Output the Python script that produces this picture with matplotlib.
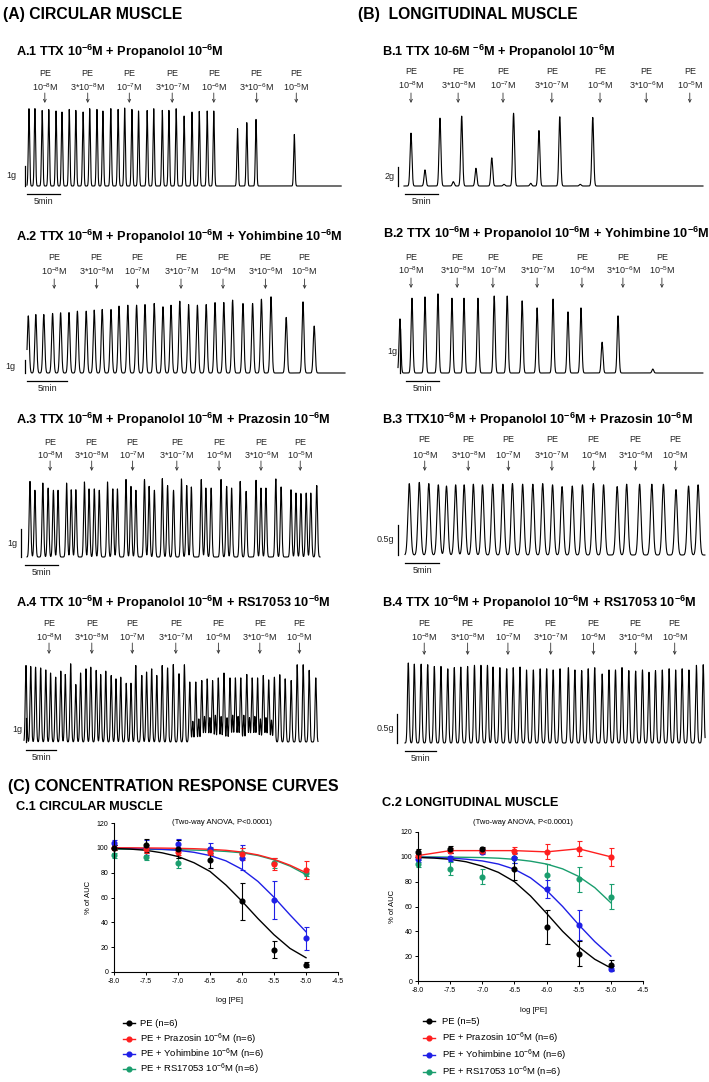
import numpy as np
import matplotlib
matplotlib.use("Agg")
import matplotlib.pyplot as plt
from matplotlib.lines import Line2D
from matplotlib.transforms import blended_transform_factory

plt.rcParams['font.family'] = ['Liberation Sans', 'DejaVu Sans']
plt.rcParams['mathtext.fontset'] = 'custom'
plt.rcParams['mathtext.rm'] = 'Liberation Sans'
plt.rcParams['mathtext.bf'] = 'Liberation Sans:bold'
plt.rcParams['mathtext.default'] = 'regular'
plt.rcParams['axes.unicode_minus'] = False

W, H = 709, 1082

# ---- organ bath traces: peak time (min) and peak force (g) ----
CONC = ['10$^{-8}$M', '3*10$^{-8}$M', '10$^{-7}$M', '3*10$^{-7}$M',
        '10$^{-6}$M', '3*10$^{-6}$M', '10$^{-5}$M']

A1_T = [0.3, 1.2, 2.3, 3.3, 4.4, 5.3, 6.4, 7.4, 8.5, 9.5, 10.6, 11.5, 12.7, 13.8, 14.8, 15.9,
        16.9, 18.2, 19.2, 20.5, 21.5, 22.6, 23.8, 25.0, 26.1, 27.3, 28.3, 31.9, 33.3, 34.7, 40.5]
A1_G = [3.87, 3.87, 3.78, 3.83, 3.75, 3.70, 3.83, 3.78, 3.70, 3.87, 3.83, 3.75, 3.87, 3.83, 3.90, 3.83,
        3.75, 3.78, 3.87, 3.78, 3.78, 3.87, 3.50, 3.70, 3.73, 3.75, 3.75, 2.87, 3.17, 3.33, 2.58]
A1_ARROWS = [2.7, 9.2, 15.5, 22.0, 28.3, 34.8, 40.8]

A2_T = [0.16, 1.1, 2.1, 3.2, 4.2, 5.25, 6.3, 7.4, 8.4, 9.4, 10.5, 11.5, 12.6, 13.7, 14.75, 15.9,
        17.0, 18.0, 19.1, 20.2, 21.3, 22.4, 23.5, 24.6, 25.7, 27.0, 28.2, 29.3, 30.5, 32.4, 34.5, 35.9]
A2_G = [4.30, 4.40, 4.40, 4.48, 4.53, 4.55, 4.65, 4.65, 4.73, 4.78, 4.78, 5.03, 5.10, 5.10, 5.15, 5.23,
        4.98, 5.10, 5.40, 5.15, 5.10, 5.15, 5.30, 5.30, 5.48, 5.23, 5.23, 5.55, 5.73, 4.18, 5.35, 3.53]
A2_ARROWS = [3.4, 8.7, 13.8, 19.25, 24.5, 29.8, 34.7]

A3_T = [0.45, 1.2, 2.4, 3.2, 4.0, 4.7, 6.0, 6.7, 7.4, 8.7, 9.4, 10.2, 10.95, 12.2, 13.0, 13.7,
        15.0, 15.75, 16.5, 17.8, 18.5, 19.3, 20.5, 21.3, 22.2, 23.4, 24.2, 24.9, 26.4, 27.1, 27.9,
        29.4, 30.25, 31.0, 32.3, 33.2, 34.7, 35.45, 36.2, 37.7, 38.5, 40.0, 40.75, 41.5, 42.3, 43.0, 43.9]
A3_G = [2.73, 2.41, 2.67, 2.49, 2.41, 2.41, 2.67, 2.43, 2.43, 2.71, 2.46, 2.46, 2.41, 2.71, 2.46, 2.46,
        2.80, 2.55, 2.41, 2.80, 2.55, 2.41, 2.83, 2.58, 2.41, 2.82, 2.58, 2.53, 2.80, 2.49, 2.49,
        2.80, 2.55, 2.49, 2.73, 2.37, 2.77, 2.49, 2.49, 2.82, 2.53, 2.43, 2.31, 2.29, 2.31, 2.31, 2.58]
A3_ARROWS = [3.5, 9.8, 16.0, 22.7, 29.1, 35.45, 41.4]

A4_T = [0.33, 1.12, 1.93, 2.78, 3.63, 4.43, 5.28, 6.13, 6.88, 7.78, 8.63, 9.43, 10.33, 11.13, 12.03,
        12.78, 13.63, 14.53, 15.33, 16.13, 17.03, 17.83, 18.63, 19.63, 20.43, 21.28, 22.13, 23.03,
        23.93, 24.88, 25.83, 26.73, 27.63, 28.63, 29.63, 30.53, 31.43, 32.38, 33.33, 34.33, 35.23,
        36.13, 37.13, 38.03, 38.93, 39.88, 40.78, 41.73, 42.63, 43.53, 44.53, 45.53, 46.53, 47.53, 48.63]
A4_G = [3.15, 3.11, 3.08, 3.05, 2.97, 2.84, 2.67, 2.92, 2.78, 3.22, 2.37, 2.84, 3.01, 3.08, 2.95,
        2.78, 2.92, 2.74, 2.60, 2.67, 2.42, 2.42, 3.15, 2.74, 2.88, 3.01, 2.74, 3.15, 3.05, 3.19,
        2.81, 3.18, 2.47, 2.47, 2.53, 2.60, 2.53, 2.64, 2.84, 2.64, 2.64, 2.64, 2.78, 2.64, 2.64,
        2.74, 2.56, 2.67, 2.77, 2.60, 2.53, 3.18, 3.18, 2.95, 2.64]
A4_MINOR_T = [28.13, 29.13, 30.08, 30.98, 31.9, 32.85, 33.83, 34.78, 35.68, 36.63, 37.58, 38.48,
              39.4, 40.33, 41.25]
A4_MINOR_G = [0.85, 0.95, 1.05, 1.0, 1.1, 1.05, 1.0, 1.1, 1.05, 1.1, 1.0, 1.05, 0.95, 1.0, 0.9]
A4_ARROWS = [4.17, 11.3, 18.05, 25.3, 32.4, 39.3, 45.9]

B1_T = [1.06, 3.18, 5.45, 7.47, 8.74, 10.9, 13.3, 15.15, 16.6, 19.2, 20.45, 23.6, 26.7, 28.6]
B1_G = [5.45, 1.66, 7.0, 0.45, 7.2, 1.83, 2.9, 0.17, 7.5, 0.28, 5.72, 7.14, 0.17, 7.07]
B1_ARROWS = [1.06, 8.2, 15.0, 22.4, 29.7, 36.7, 43.3]

B2_T = [0.3, 2.15, 4.15, 6.15, 8.3, 10.15, 12.3, 14.8, 16.8, 19.1, 21.4, 23.85, 26.15, 28.15,
        31.4, 33.85, 39.2]
B2_G = [1.23, 1.70, 1.73, 1.80, 1.70, 1.70, 1.70, 1.75, 1.75, 1.64, 1.48, 1.68, 1.39, 1.48,
        0.70, 1.30, 0.09]
B2_ARROWS = [2.0, 9.1, 14.6, 21.4, 28.3, 34.6, 40.6]

B3_T = [0.63, 2.1, 3.5, 4.9, 6.1, 7.45, 8.7, 10.05, 11.4, 12.9, 14.4, 15.8, 17.3, 18.8, 20.25,
        21.7, 23.1, 24.6, 26.1, 27.7, 29.2, 31.2, 32.6, 34.5, 36.3, 38.0, 39.85, 41.7, 43.1]
B3_G = [1.19, 1.21, 1.19, 1.17, 1.15, 1.17, 1.17, 1.18, 1.17, 1.18, 1.18, 1.19, 1.18, 1.18, 1.19,
        1.17, 1.14, 1.15, 1.17, 1.19, 1.17, 1.14, 1.18, 1.18, 1.18, 1.18, 1.09, 1.15, 1.17]
B3_ARROWS = [2.9, 9.3, 15.2, 21.6, 27.75, 33.9, 39.8]

B4_T = [0.53, 1.5, 2.6, 3.66, 4.73, 5.8, 6.9, 7.95, 9.0, 10.1, 11.2, 12.25, 13.3, 14.2, 15.3,
        16.4, 17.45, 18.55, 19.6, 20.7, 21.8, 22.85, 23.9, 25.0, 26.35, 27.4, 28.5, 29.55, 30.6,
        31.8, 32.9, 33.95, 35.0, 36.1, 37.2, 38.3, 39.35, 40.4, 41.5, 42.6, 43.65, 44.7, 45.8, 47.0, 48.1]
B4_G = [1.38, 1.36, 1.36, 1.35, 1.32, 1.32, 1.28, 1.30, 1.31, 1.32, 1.34, 1.34, 1.34, 1.31, 1.30,
        1.28, 1.30, 1.31, 1.26, 1.26, 1.28, 1.28, 1.26, 1.28, 1.30, 1.26, 1.25, 1.28, 1.30, 1.19,
        1.26, 1.26, 1.30, 1.25, 1.24, 1.26, 1.22, 1.25, 1.26, 1.28, 1.26, 1.28, 1.26, 1.34, 1.35]
B4_ARROWS = [3.1, 10.1, 16.6, 23.5, 30.4, 37.2, 43.5]

# ---- concentration response curves (% of AUC) ----
LOG_PE = [-8.0, -7.5, -7.0, -6.5, -6.0, -5.5, -5.0]
LOG_FIT = [-8.0, -7.75, -7.5, -7.25, -7.0, -6.75, -6.5, -6.25, -6.0, -5.75, -5.5, -5.25, -5.0]

C1_PE = [100, 102, 99, 90, 57, 18, 6]
C1_PE_SEM = [2, 5, 7, 6, 15, 7, 2]
C1_PRAZ = [100, 99, 97, 97, 95, 87, 82]
C1_PRAZ_SEM = [2, 3, 3, 3, 5, 5, 7]
C1_YOH = [104, 100, 103, 99, 92, 58, 27]
C1_YOH_SEM = [2, 6, 4, 5, 10, 15, 9]
C1_RS = [94, 93, 88, 98, 96, 88, 80]
C1_RS_SEM = [2, 3, 4, 3, 4, 4, 3]
C1_PE_FIT = [99.5, 99, 98, 96, 93, 88, 81, 70, 57, 43, 30, 19, 11.5]
C1_PRAZ_FIT = [100, 100, 99.9, 99.8, 99.6, 99.3, 98.8, 98, 96.6, 94.3, 90.8, 86, 80]
C1_YOH_FIT = [99.8, 99.6, 99.3, 98.8, 98, 96.4, 93.8, 89.5, 82.7, 72.9, 60.2, 46, 32.4]
C1_RS_FIT = [99, 98.9, 98.8, 98.7, 98.5, 98.2, 97.8, 97.1, 96, 93.8, 90.3, 85.3, 78.5]

C2_PE = [104, 106, 106, 90.5, 43.5, 22, 13]
C2_PE_SEM = [2, 3, 2, 9, 14, 10, 4]
C2_PRAZ = [101, 105, 105, 105, 104, 106.5, 100]
C2_PRAZ_SEM = [2, 2, 2, 3, 6, 6, 7]
C2_YOH = [98.5, 99, 104, 99, 74, 45, 10]
C2_YOH_SEM = [3, 2, 2, 4, 7, 12, 2]
C2_RS = [94.5, 90.5, 83.8, 99, 85, 82, 68]
C2_RS_SEM = [3, 5, 6, 4, 9, 10, 10]
C2_PE_FIT = [99.5, 99, 98, 96, 92.5, 87.5, 80, 68.5, 54.5, 40, 27.5, 17.5, 10.5]
C2_YOH_FIT = [99.7, 99.4, 99, 98.1, 96.7, 94.2, 90, 83.1, 73, 60, 45.3, 31.7, 20]
C2_RS_FIT = [100, 99.9, 99.8, 99.6, 99.4, 98.9, 98, 96.5, 94.2, 90.3, 84.2, 75.2, 63]

COLORS = ['black', '#ff1f1f', '#1f1fe6', '#1a9e6e']
C1_LABELS = ['PE (n=6)', 'PE + Prazosin 10$^{-6}$M (n=6)',
             'PE + Yohimbine 10$^{-6}$M (n=6)', 'PE + RS17053 10$^{-6}$M (n=6)']
C2_LABELS = ['PE (n=5)', 'PE + Prazosin 10$^{-6}$M (n=6)',
             'PE + Yohimbine 10$^{-6}$M (n=6)', 'PE + RS17053 10$^{-6}$M (n=6)']

fig = plt.figure(figsize=(W / 100, H / 100), dpi=100)


def fy(y):
    return 1 - y / H


def ftext(x, y, s, **kw):
    fig.text(x / W, fy(y), s, **kw)


def draw_trace(left, base, ppm, ppg, dur, times, grams, width, arrows, ylines,
               bar_g, bar_label, bar_x, label_r, min_x0, minor=None):
    right = left + dur * ppm
    ax = fig.add_axes([left / W, fy(base + 4), (right - left) / W, 94 / H])
    ax.set_xlim(0, dur)
    ax.set_ylim(-4 / ppg, 90 / ppg)
    ax.axis('off')
    t = np.linspace(0, dur, 5000)
    y = np.zeros_like(t)
    for tp, g in zip(times, grams):
        y += g * np.exp(-0.5 * ((t - tp) / width) ** 2)
    if minor is not None:
        for tp, g in zip(*minor):
            y += g * np.exp(-0.5 * ((t - tp) / (width * 0.8)) ** 2)
    ax.plot(t, y, color='black', lw=0.8, clip_on=False)

    # scale bars
    bx = (bar_x - left) / ppm
    ax.plot([bx, bx], [0, bar_g], color='black', lw=0.9, clip_on=False)
    ax.text((label_r - left) / ppm, bar_g / 2, bar_label, ha='right', va='center',
            fontsize=6.5, color='#222222')
    m0 = (min_x0 - left) / ppm
    ax.plot([m0, m0 + 5], [-8 / ppg, -8 / ppg], color='black', lw=0.9, clip_on=False)
    ax.text(m0 + 2.5, -15.5 / ppg, '5min', ha='center', va='center', fontsize=6.5,
            color='#222222')

    # drug additions
    tr = blended_transform_factory(ax.transData, fig.transFigure)
    y_pe, y_conc, y_a0, y_a1 = ylines
    for ta, c in zip(arrows, CONC):
        ax.text(ta, fy(y_pe), 'PE', transform=tr, ha='center', va='center',
                fontsize=6.5, color='#222222')
        ax.text(ta, fy(y_conc), c, transform=tr, ha='center', va='center',
                fontsize=6.5, color='#222222')
        ax.annotate('', xy=(ta, fy(y_a1)), xytext=(ta, fy(y_a0)), xycoords=tr,
                    textcoords=tr,
                    arrowprops=dict(arrowstyle='->', lw=0.6, color='#333333',
                                    shrinkA=0, shrinkB=0, mutation_scale=5))


# headers
ftext(3, 15, '(A) CIRCULAR MUSCLE', fontsize=11.3, fontweight='bold', va='center')
ftext(358, 15, '(B)  LONGITUDINAL MUSCLE', fontsize=11.3, fontweight='bold', va='center')
ftext(8, 786, '(C) CONCENTRATION RESPONSE CURVES', fontsize=11.5, fontweight='bold', va='center')

M6 = '10$^{\\mathbf{-6}}$M'
titles = [
    (16, 52, 'A.1 TTX ' + M6 + ' + Propanolol ' + M6),
    (16, 237, 'A.2 TTX ' + M6 + ' + Propanolol ' + M6 + ' + Yohimbine ' + M6),
    (16, 420, 'A.3 TTX ' + M6 + ' + Propanolol ' + M6 + ' + Prazosin ' + M6),
    (16, 603, 'A.4 TTX ' + M6 + ' + Propanolol ' + M6 + ' + RS17053 ' + M6),
    (382, 52, 'B.1 TTX 10-6M $^{\\mathbf{-6}}$M + Propanolol ' + M6),
    (383, 234, 'B.2 TTX ' + M6 + ' + Propanolol ' + M6 + ' + Yohimbine ' + M6),
    (382, 420, 'B.3 TTX' + M6 + ' + Propanolol ' + M6 + ' + Prazosin ' + M6),
    (382, 603, 'B.4 TTX ' + M6 + ' + Propanolol ' + M6 + ' + RS17053 ' + M6),
]
for x, y, s in titles:
    ftext(x, y, s, fontsize=9.2, fontweight='bold', va='center')

draw_trace(27, 186, 6.6, 20, 47.6, A1_T, A1_G, 0.1, A1_ARROWS, (73, 87, 93, 103),
           1, '1g', 25, 16, 27)
draw_trace(27, 373, 8.0, 13.3, 39.75, A2_T, A2_G, 0.12, A2_ARROWS, (258, 271, 279, 289),
           1, '1g', 25, 15, 27)
draw_trace(27, 557, 6.6, 27.7, 44.4, A3_T, A3_G, 0.12, A3_ARROWS, (442, 455, 461, 471),
           1, '1g', 21, 17, 25)
draw_trace(24, 742, 6.0, 24.3, 49.0, A4_T, A4_G, 0.12, A4_ARROWS, (624, 637, 643, 654),
           1, '1g', 25.7, 22, 26, minor=(A4_MINOR_T, A4_MINOR_G))
draw_trace(404, 186, 6.6, 9.7, 45.3, B1_T, B1_G, 0.14, B1_ARROWS, (72, 85, 93, 103),
           2, '2g', 398, 395, 405)
draw_trace(398, 373, 6.5, 44, 46.9, B2_T, B2_G, 0.14, B2_ARROWS, (257, 270, 278, 288),
           1, '1g', 400, 397, 406)
draw_trace(405, 555, 6.8, 60, 44.1, B3_T, B3_G, 0.2, B3_ARROWS, (440, 455, 461, 471),
           0.5, '0.5g', 398, 394, 405)
draw_trace(405, 743, 6.2, 58, 48.4, B4_T, B4_G, 0.13, B4_ARROWS, (624, 637, 643, 655),
           0.5, '0.5g', 397, 394, 405)


def draw_crc(box, series, fits, labels, title_xy, title, ann_x, ylab_x, xlab_y, leg):
    x0, y0, x1, y1 = box
    ax = fig.add_axes([x0 / W, fy(y1), (x1 - x0) / W, (y1 - y0) / H])
    ax.set_xlim(-8.0, -4.5)
    ax.set_ylim(0, 120)
    ax.set_xticks([-8.0, -7.5, -7.0, -6.5, -6.0, -5.5, -5.0, -4.5])
    ax.set_xticklabels(['%.1f' % v for v in [-8.0, -7.5, -7.0, -6.5, -6.0, -5.5, -5.0, -4.5]])
    ax.set_yticks(range(0, 121, 20))
    for sp in ['top', 'right']:
        ax.spines[sp].set_visible(False)
    for sp in ['left', 'bottom']:
        ax.spines[sp].set_linewidth(0.8)
    ax.tick_params(direction='out', length=2.5, width=0.7, labelsize=5, pad=1.5)
    for (m, s), f, c in reversed(list(zip(series, fits, COLORS))):
        if f is None:
            ax.plot(LOG_PE, m, color=c, lw=1.0, clip_on=False)
        else:
            ax.plot(LOG_FIT, f, color=c, lw=1.0, clip_on=False)
        ax.errorbar(LOG_PE, m, yerr=s, fmt='o', color=c, ms=3.4, elinewidth=0.8,
                    capsize=1.8, capthick=0.8, clip_on=False)
    ftext(title_xy[0], title_xy[1], title, fontsize=9.2, fontweight='bold', va='center')
    ftext(ann_x, 823, '(Two-way ANOVA, P<0.0001)', fontsize=5.5, ha='center', va='center')
    ftext(ylab_x, (y0 + y1) / 2, '% of AUC', fontsize=5.5, rotation=90, ha='center', va='center')
    ftext((x0 + x1) / 2 + 3, xlab_y, 'log [PE]', fontsize=5.5, ha='center', va='center')
    lx0, lx1, tx, ys = leg
    for c, lab, yy in zip(COLORS, labels, ys):
        fig.add_artist(Line2D([lx0 / W, lx1 / W], [fy(yy), fy(yy)], color=c, lw=1.0,
                              transform=fig.transFigure))
        fig.add_artist(Line2D([(lx0 + lx1) / 2 / W], [fy(yy)], color=c, marker='o', ms=3.4,
                              transform=fig.transFigure))
        ftext(tx, yy, lab, fontsize=6.8, va='center')


draw_crc((114, 823, 338, 972),
         [(C1_PE, C1_PE_SEM), (C1_PRAZ, C1_PRAZ_SEM), (C1_YOH, C1_YOH_SEM), (C1_RS, C1_RS_SEM)],
         [C1_PE_FIT, C1_PRAZ_FIT, C1_YOH_FIT, C1_RS_FIT], C1_LABELS,
         (16, 807), 'C.1 CIRCULAR MUSCLE', 222, 88, 1000,
         (123, 135, 140, [1023, 1039, 1054, 1069]))
draw_crc((418, 832, 643, 981),
         [(C2_PE, C2_PE_SEM), (C2_PRAZ, C2_PRAZ_SEM), (C2_YOH, C2_YOH_SEM), (C2_RS, C2_RS_SEM)],
         [C2_PE_FIT, None, C2_YOH_FIT, C2_RS_FIT], C2_LABELS,
         (382, 803), 'C.2 LONGITUDINAL MUSCLE', 523, 392, 1010,
         (423, 435, 442, [1021, 1038, 1055, 1072]))

fig.savefig('out.png', dpi=100)
